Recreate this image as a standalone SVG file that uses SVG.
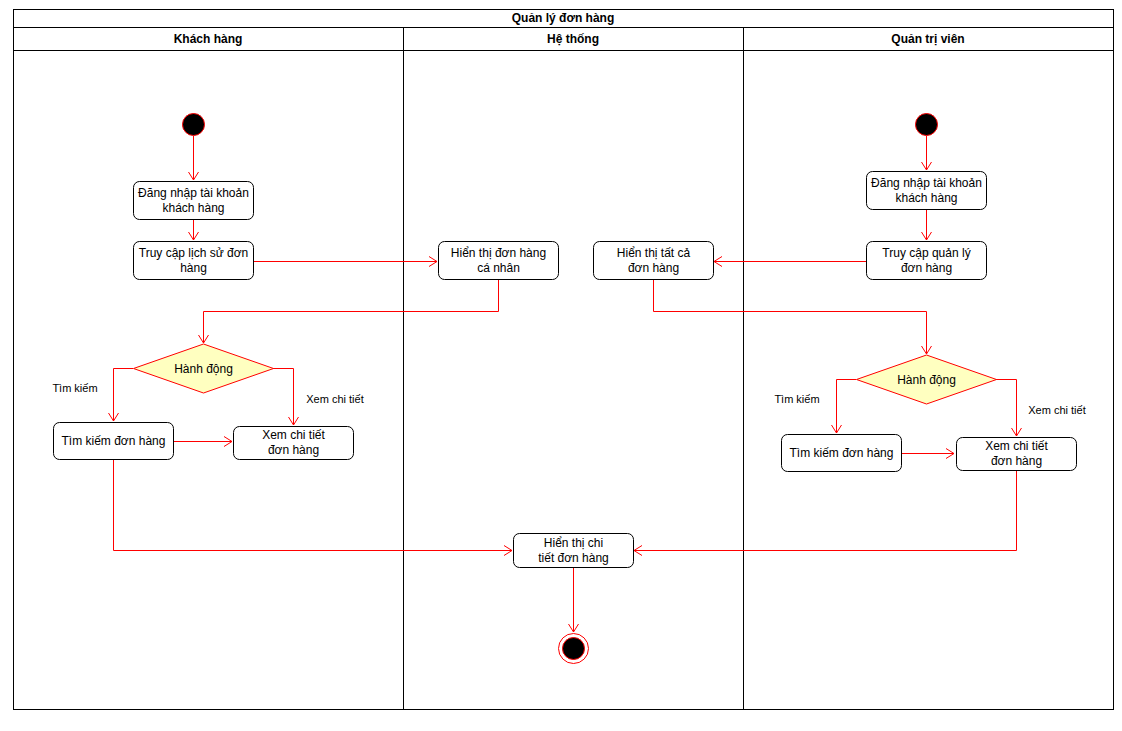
<svg xmlns="http://www.w3.org/2000/svg" width="1122" height="731" viewBox="0 0 1122 731">
<defs>
<style>
.lane{fill:none;stroke:#000;stroke-width:1}
.hdr{font-family:"Liberation Sans",Arial,sans-serif;font-size:12px;font-weight:bold;fill:#000;text-anchor:middle}
.act{fill:#fff;stroke:#000;stroke-width:1}
.txt{font-family:"Liberation Sans",Arial,sans-serif;font-size:12px;fill:#000;text-anchor:middle}
.lbl{font-family:"Liberation Sans",Arial,sans-serif;font-size:11px;fill:#000;text-anchor:middle}
.dec{fill:#ffffc0;stroke:#ff0000;stroke-width:1}
.start{fill:#000;stroke:#ff0000;stroke-width:1}
.edge{fill:none;stroke:#ff0000;stroke-width:1;marker-end:url(#open)}
</style>
<marker id="open" markerWidth="12" markerHeight="12" refX="10" refY="6" orient="auto" markerUnits="userSpaceOnUse">
<path d="M2,1 L10,6 L2,11" fill="none" stroke="#ff0000" stroke-width="1"/>
</marker>
</defs>
<rect width="1122" height="731" fill="#fff"/>

<!-- swimlane frame -->
<g id="pool">
<rect class="lane" x="13.5" y="9.5" width="1100" height="700"/>
<line class="lane" x1="13.5" y1="27.5" x2="1113.5" y2="27.5"/>
<line class="lane" x1="13.5" y1="50.5" x2="1113.5" y2="50.5"/>
<line class="lane" x1="403.5" y1="27.5" x2="403.5" y2="709.5"/>
<line class="lane" x1="743.5" y1="27.5" x2="743.5" y2="709.5"/>
<text class="hdr" x="563" y="22">Quản lý đơn hàng</text>
<text class="hdr" x="208" y="43">Khách hàng</text>
<text class="hdr" x="573" y="43">Hệ thống</text>
<text class="hdr" x="928" y="43">Quản trị viên</text>
</g>

<!-- connectors -->
<g id="edges">
<path class="edge" d="M193.5,136 L193.5,180"/>
<path class="edge" d="M193.5,219 L193.5,240"/>
<path class="edge" d="M253,261.5 L437,261.5"/>
<path class="edge" d="M498.5,279 L498.5,311.5 L203.5,311.5 L203.5,343"/>
<path class="edge" d="M133,368.5 L113.5,368.5 L113.5,421"/>
<path class="edge" d="M273,368.5 L293.5,368.5 L293.5,425"/>
<path class="edge" d="M173,441.5 L232,441.5"/>
<path class="edge" d="M113.5,459 L113.5,550.5 L512,550.5"/>
<path class="edge" d="M926.5,136 L926.5,170"/>
<path class="edge" d="M926.5,209 L926.5,240"/>
<path class="edge" d="M866,261.5 L714,261.5"/>
<path class="edge" d="M653.5,279 L653.5,311.5 L926.5,311.5 L926.5,354"/>
<path class="edge" d="M856,379.5 L836.5,379.5 L836.5,433"/>
<path class="edge" d="M996,379.5 L1016.5,379.5 L1016.5,436"/>
<path class="edge" d="M901,453.5 L954,453.5"/>
<path class="edge" d="M1016.5,470 L1016.5,550.5 L634,550.5"/>
<path class="edge" d="M573.5,567 L573.5,632"/>
<text class="lbl" x="75" y="392">Tìm kiếm</text>
<text class="lbl" x="335" y="403">Xem chi tiết</text>
<text class="lbl" x="797" y="403">Tìm kiếm</text>
<text class="lbl" x="1057" y="414">Xem chi tiết</text>
</g>

<!-- customer lane -->
<g id="start-customer"><circle class="start" cx="193.5" cy="124.5" r="11"/></g>
<g id="login-customer">
<rect class="act" x="133.5" y="181.5" width="120" height="38" rx="6"/>
<text class="txt" x="193.5" y="197">Đăng nhập tài khoản</text>
<text class="txt" x="193.5" y="212">khách hàng</text>
</g>
<g id="order-history">
<rect class="act" x="133.5" y="241.5" width="120" height="38" rx="6"/>
<text class="txt" x="193.5" y="257">Truy cập lịch sử đơn</text>
<text class="txt" x="193.5" y="272">hàng</text>
</g>
<g id="decision-customer">
<polygon class="dec" points="203.5,344 273.5,368.5 203.5,393 133.5,368.5"/>
<text class="txt" x="203.5" y="373">Hành động</text>
</g>
<g id="search-customer">
<rect class="act" x="53.5" y="422.5" width="120" height="37" rx="6"/>
<text class="txt" x="113.5" y="445">Tìm kiếm đơn hàng</text>
</g>
<g id="detail-customer">
<rect class="act" x="233.5" y="426.5" width="120" height="33" rx="6"/>
<text class="txt" x="293.5" y="439">Xem chi tiết</text>
<text class="txt" x="293.5" y="454">đơn hàng</text>
</g>

<!-- system lane -->
<g id="show-own-orders">
<rect class="act" x="438.5" y="241.5" width="120" height="38" rx="6"/>
<text class="txt" x="498.5" y="257">Hiển thị đơn hàng</text>
<text class="txt" x="498.5" y="272">cá nhân</text>
</g>
<g id="show-all-orders">
<rect class="act" x="593.5" y="241.5" width="120" height="38" rx="6"/>
<text class="txt" x="653.5" y="257">Hiển thị tất cả</text>
<text class="txt" x="653.5" y="272">đơn hàng</text>
</g>
<g id="show-detail">
<rect class="act" x="513.5" y="533.5" width="120" height="34" rx="6"/>
<text class="txt" x="573.5" y="547">Hiển thị chi</text>
<text class="txt" x="573.5" y="562">tiết đơn hàng</text>
</g>
<g id="end">
<circle cx="573.5" cy="648.5" r="15" fill="#fff" stroke="#ff0000" stroke-width="1"/>
<circle cx="573.5" cy="648.5" r="11" fill="#000" stroke="#ff0000" stroke-width="1"/>
</g>

<!-- admin lane -->
<g id="start-admin"><circle class="start" cx="926.5" cy="124.5" r="11"/></g>
<g id="login-admin">
<rect class="act" x="866.5" y="171.5" width="120" height="38" rx="6"/>
<text class="txt" x="926.5" y="187">Đăng nhập tài khoản</text>
<text class="txt" x="926.5" y="202">khách hàng</text>
</g>
<g id="order-management">
<rect class="act" x="866.5" y="241.5" width="120" height="38" rx="6"/>
<text class="txt" x="926.5" y="257">Truy cập quản lý</text>
<text class="txt" x="926.5" y="272">đơn hàng</text>
</g>
<g id="decision-admin">
<polygon class="dec" points="926.5,355 996.5,379.5 926.5,404 856.5,379.5"/>
<text class="txt" x="926.5" y="384">Hành động</text>
</g>
<g id="search-admin">
<rect class="act" x="781.5" y="434.5" width="120" height="37" rx="6"/>
<text class="txt" x="841.5" y="457">Tìm kiếm đơn hàng</text>
</g>
<g id="detail-admin">
<rect class="act" x="956.5" y="437.5" width="120" height="33" rx="6"/>
<text class="txt" x="1016.5" y="450">Xem chi tiết</text>
<text class="txt" x="1016.5" y="465">đơn hàng</text>
</g>
</svg>
